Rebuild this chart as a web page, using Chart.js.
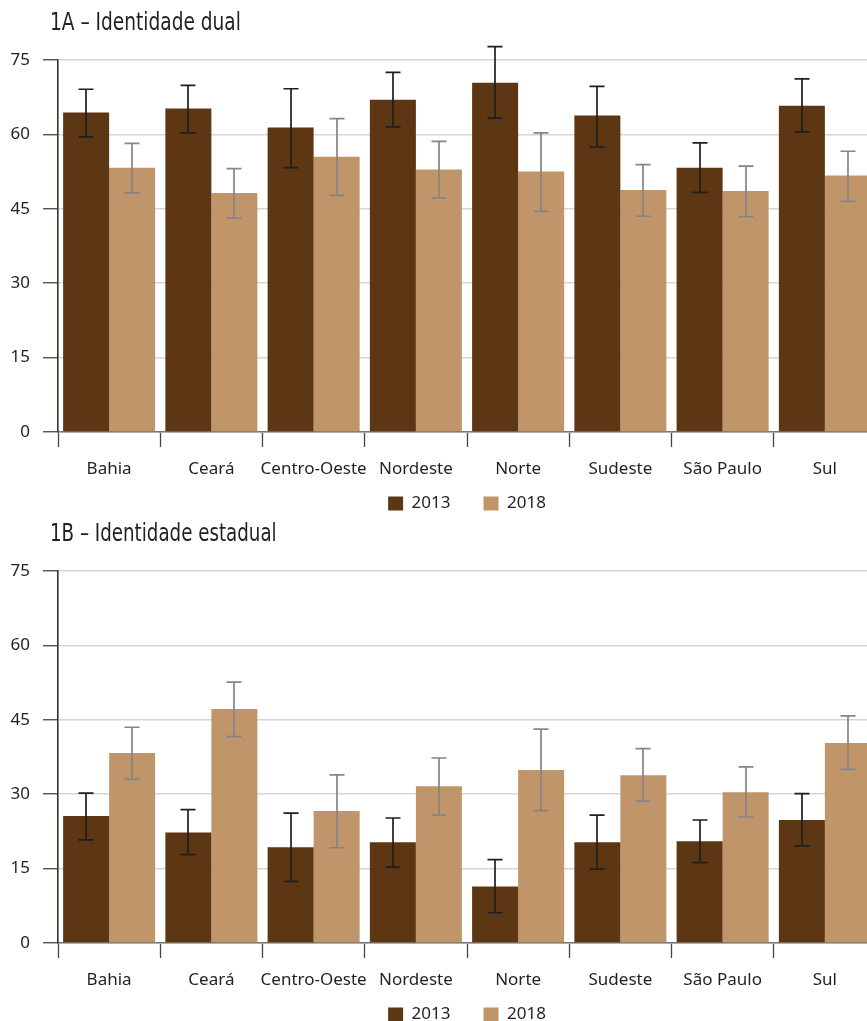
<!DOCTYPE html>
<html>
<head>
<meta charset="utf-8">
<script src="https://cdn.jsdelivr.net/npm/chart.js@4.4.1/dist/chart.umd.min.js"></script>
<style>
  html, body { margin: 0; padding: 0; background: #ffffff; overflow: hidden; }
  body { width: 867px; height: 1021px; position: relative; }
  .panel { position: absolute; left: 0; }
  .title {
    position: absolute; left: 50px; margin: 0;
    font-family: "Liberation Sans Narrow", "DejaVu Sans Condensed", "Noto Sans", sans-serif;
    font-stretch: condensed;
    font-size: 24px; line-height: 24px; font-weight: normal; color: #231f20;
    white-space: nowrap;
    transform-origin: 0 0;
    z-index: 2;
  }
  canvas { display: block; }
</style>
</head>
<body>
  <div class="title" style="top:10px; transform: scaleX(0.86)">1A – Identidade dual</div>
  <div class="panel" style="top:0px"><canvas id="c1" width="880" height="547"></canvas></div>
  <div class="title" style="top:521px; transform: scaleX(0.845)">1B – Identidade estadual</div>
  <div class="panel" style="top:511px"><canvas id="c2" width="880" height="547"></canvas></div>

<script>
// Regions on the horizontal axis
const categories = ['Bahia', 'Ceará', 'Centro-Oeste', 'Nordeste', 'Norte', 'Sudeste', 'São Paulo', 'Sul'];
const seriesLabels = ['2013', '2018'];
const yTicks = [0, 15, 30, 45, 60, 75];

// 1A – Identidade dual (%), with confidence interval bounds
const dual2013 = [64.4, 65.2, 61.4, 67.0, 70.4, 63.8, 53.3, 65.8];
const dual2013Low = [59.5, 60.3, 53.3, 61.5, 63.3, 57.5, 48.3, 60.5];
const dual2013High = [69.1, 69.9, 69.2, 72.5, 77.7, 69.7, 58.3, 71.2];
const dual2018 = [53.3, 48.2, 55.5, 52.9, 52.5, 48.8, 48.6, 51.7];
const dual2018Low = [48.2, 43.1, 47.7, 47.2, 44.5, 43.5, 43.4, 46.5];
const dual2018High = [58.2, 53.1, 63.2, 58.6, 60.3, 53.9, 53.6, 56.6];

// 1B – Identidade estadual (%), with confidence interval bounds
const estadual2013 = [25.6, 22.3, 19.3, 20.3, 11.4, 20.3, 20.5, 24.8];
const estadual2013Low = [20.8, 17.8, 12.4, 15.3, 6.1, 14.9, 16.2, 19.6];
const estadual2013High = [30.2, 26.9, 26.2, 25.2, 16.8, 25.8, 24.8, 30.1];
const estadual2018 = [38.3, 47.2, 26.6, 31.6, 34.9, 33.8, 30.4, 40.3];
const estadual2018Low = [33.0, 41.6, 19.2, 25.8, 26.7, 28.6, 25.4, 35.0];
const estadual2018High = [43.5, 52.6, 33.9, 37.3, 43.1, 39.2, 35.5, 45.8];

const COLOR_2013 = '#5d3714';
const COLOR_2018 = '#c0956a';
const ERR_2013 = '#1f1f1f';
const ERR_2018 = '#858585';

Chart.defaults.font.family = "'Noto Sans', 'Open Sans', sans-serif";
Chart.defaults.font.size = 17;
Chart.defaults.color = '#231f20';

// Draws whiskers with caps from each dataset's low/high arrays
const errorBarPlugin = {
  id: 'errorBars',
  afterDatasetsDraw(chart) {
    const { ctx } = chart;
    const yScale = chart.scales.y;
    chart.data.datasets.forEach((ds, i) => {
      const meta = chart.getDatasetMeta(i);
      if (!ds.errorLow || meta.hidden) return;
      ctx.save();
      ctx.strokeStyle = ds.errorColor;
      ctx.lineWidth = 1.7;
      meta.data.forEach((bar, j) => {
        const x = Math.round(bar.x);
        const yLo = yScale.getPixelForValue(ds.errorLow[j]);
        const yHi = yScale.getPixelForValue(ds.errorHigh[j]);
        const half = 7.5;
        ctx.beginPath();
        ctx.moveTo(x, yLo); ctx.lineTo(x, yHi);
        ctx.moveTo(x - half, yLo); ctx.lineTo(x + half, yLo);
        ctx.moveTo(x - half, yHi); ctx.lineTo(x + half, yHi);
        ctx.stroke();
      });
      ctx.restore();
    });
  }
};

// Pulls the legend up so it sits just under the category labels
const LEGEND_LIFT = 25;
const legendLiftPlugin = {
  id: 'legendLift',
  afterLayout(chart) {
    const lg = chart.legend;
    if (lg) { lg.top -= LEGEND_LIFT; lg.bottom -= LEGEND_LIFT; }
  }
};

function makeChart(canvasId, v2013, lo2013, hi2013, v2018, lo2018, hi2018) {
  return new Chart(document.getElementById(canvasId), {
    type: 'bar',
    data: {
      labels: categories,
      datasets: [
        { label: seriesLabels[0], data: v2013, backgroundColor: COLOR_2013,
          errorLow: lo2013, errorHigh: hi2013, errorColor: ERR_2013 },
        { label: seriesLabels[1], data: v2018, backgroundColor: COLOR_2018,
          errorLow: lo2018, errorHigh: hi2018, errorColor: ERR_2018 }
      ]
    },
    options: {
      responsive: false,
      animation: false,
      layout: { padding: { top: 60, right: 4, bottom: 0, left: 0 } },
      datasets: { bar: { categoryPercentage: 0.9, barPercentage: 1.0, borderWidth: 0 } },
      plugins: {
        legend: {
          position: 'bottom',
          fullSize: false,
          labels: { boxWidth: 15, boxHeight: 14, padding: 33, color: '#231f20',
                    font: { size: 17 } }
        },
        tooltip: { enabled: false },
        title: { display: false }
      },
      scales: {
        x: {
          offset: true,
          afterFit: (s) => { s.height = 55; },
          grid: { drawOnChartArea: false, drawTicks: true, tickLength: 15,
                  tickColor: '#444444', tickWidth: 1.3, offset: true },
          border: { display: true, color: '#777777', width: 1.6 },
          ticks: { padding: 12, color: '#231f20', font: { size: 17 },
                   maxRotation: 0, autoSkip: false }
        },
        y: {
          min: yTicks[0],
          max: yTicks[yTicks.length - 1],
          afterFit: (s) => { s.width = 58; },
          afterBuildTicks: (s) => { s.ticks = yTicks.map(v => ({ value: v })); },
          grid: { color: '#d6d6d6', lineWidth: 1.5, tickLength: 15,
                  tickColor: '#444444', tickWidth: 1.3 },
          border: { display: true, color: '#333333', width: 1.6 },
          ticks: { padding: 13, color: '#231f20', font: { size: 17 } }
        }
      }
    },
    plugins: [errorBarPlugin, legendLiftPlugin]
  });
}

makeChart('c1', dual2013, dual2013Low, dual2013High, dual2018, dual2018Low, dual2018High);
makeChart('c2', estadual2013, estadual2013Low, estadual2013High, estadual2018, estadual2018Low, estadual2018High);
</script>
</body>
</html>
